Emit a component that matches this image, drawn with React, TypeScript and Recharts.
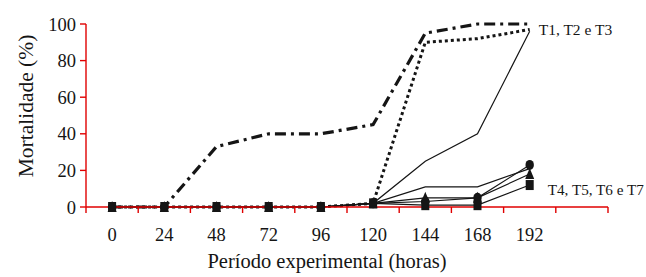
import React from 'react';
import { LineChart, Line, XAxis, YAxis, ReferenceDot } from 'recharts';

const hours = [0, 24, 48, 72, 96, 120, 144, 168, 192];
const t1 = [0, 0, 33, 40, 40, 45, 95, 100, 100];
const t2 = [0, 0, 0, 0, 0, 2, 90, 92, 97];
const t3 = [0, 0, 0, 0, 0, 2, 25, 40, 96];
const t4 = [0, 0, 0, 0, 0, 2, 11, 11, 21];
const t5 = [0, 0, 0, 0, 0, 2, 3, 5, 23];
const t6 = [0, 0, 0, 0, 0, 2, 5, 5, 18];
const t7 = [0, 0, 0, 0, 0, 2, 1, 1, 12];

const xDomain = [-12, 228];
const xLabelTicks = [0, 24, 48, 72, 96, 120, 144, 168, 192];
const xMarkTicks = [-12, 12, 36, 60, 84, 108, 132, 156, 180, 204, 228];
const yTicks = [0, 20, 40, 60, 80, 100];

const groupLabel1 = 'T1, T2 e T3';
const groupLabel2 = 'T4, T5, T6 e T7';
const xTitle = 'Período experimental (horas)';
const yTitle = 'Mortalidade (%)';

const data = hours.map((h, i) => ({
  h,
  t1: t1[i],
  t2: t2[i],
  t3: t3[i],
  t4: t4[i],
  t5: t5[i],
  t6: t6[i],
  t7: t7[i],
}));

const FONT = '"Liberation Serif", "Times New Roman", Times, serif';
const INK = '#151515';
const AX = '#e00000';

const squareDot = (p: any) => (
  <rect key={`s${p.index}`} x={p.cx - 4} y={p.cy - 5} width={8} height={10} fill={INK} />
);
const circleDot = (p: any) => (
  <ellipse key={`c${p.index}`} cx={p.cx} cy={p.cy} rx={4.2} ry={5} fill={INK} />
);
const triDot = (p: any) => (
  <polygon
    key={`t${p.index}`}
    points={`${p.cx},${p.cy - 6} ${p.cx - 4.5},${p.cy + 5} ${p.cx + 4.5},${p.cy + 5}`}
    fill={INK}
  />
);

export default function App() {
  return (
    <div style={{ position: 'absolute', left: 0, top: 0 }}>
      <LineChart
        width={646}
        height={277}
        data={data}
        margin={{ top: 24, right: 38, left: 0, bottom: 0 }}
      >
        <XAxis
          xAxisId="a"
          dataKey="h"
          type="number"
          domain={xDomain}
          ticks={xMarkTicks}
          interval={0}
          height={6}
          tickSize={6}
          tick={{ fill: 'none', fontSize: 1 }}
          stroke={AX}
          axisLine={{ stroke: AX, strokeWidth: 1.4 }}
          tickLine={{ stroke: AX, strokeWidth: 1.4 }}
        />
        <XAxis
          xAxisId="b"
          dataKey="h"
          type="number"
          domain={xDomain}
          ticks={xLabelTicks}
          interval={0}
          height={64}
          axisLine={false}
          tickLine={false}
          tickSize={0}
          tickMargin={15}
          tick={{ fontFamily: FONT, fontSize: 18.5, fill: INK }}
          label={{
            content: () => (
              <text x={327} y={268} textAnchor="middle" fontFamily={FONT} fontSize={20.5} fill={INK}>
                {xTitle}
              </text>
            ),
          }}
        />
        <YAxis
          domain={[0, 100]}
          ticks={yTicks}
          interval={0}
          width={86}
          tickSize={6}
          tickMargin={4}
          stroke={AX}
          axisLine={{ stroke: AX, strokeWidth: 1.4 }}
          tickLine={{ stroke: AX, strokeWidth: 1.4 }}
          tick={{ fontFamily: FONT, fontSize: 18.5, fill: INK }}
          label={{
            content: () => (
              <text
                x={33}
                y={106}
                transform="rotate(-90 33 106)"
                textAnchor="middle"
                fontFamily={FONT}
                fontSize={21.5}
                fill={INK}
              >
                {yTitle}
              </text>
            ),
          }}
        />
        <Line xAxisId="a" dataKey="t7" stroke="none" dot={false} activeDot={false} isAnimationActive={false} />
        <Line xAxisId="b" dataKey="t1" stroke={INK} strokeWidth={3.2} strokeDasharray="11 5 3 5" dot={false} isAnimationActive={false} />
        <Line xAxisId="b" dataKey="t2" stroke={INK} strokeWidth={3} strokeDasharray="3 3" dot={false} isAnimationActive={false} />
        <Line xAxisId="b" dataKey="t3" stroke={INK} strokeWidth={1.2} dot={false} isAnimationActive={false} />
        <Line xAxisId="b" dataKey="t4" stroke={INK} strokeWidth={1.2} dot={false} isAnimationActive={false} />
        <Line xAxisId="b" dataKey="t5" stroke={INK} strokeWidth={1.2} dot={circleDot} isAnimationActive={false} />
        <Line xAxisId="b" dataKey="t6" stroke={INK} strokeWidth={1.2} dot={triDot} isAnimationActive={false} />
        <Line xAxisId="b" dataKey="t7" stroke={INK} strokeWidth={1.2} dot={squareDot} isAnimationActive={false} />
        <ReferenceDot
          xAxisId="b"
          x={hours[hours.length - 1]}
          y={t2[t2.length - 1]}
          r={0}
          fill="none"
          stroke="none"
          label={{
            content: (props: any) => (
              <text x={props.viewBox.x + 9} y={props.viewBox.y + 6} fontFamily={FONT} fontSize={15.5} fill={INK}>
                {groupLabel1}
              </text>
            ),
          }}
        />
        <ReferenceDot
          xAxisId="b"
          x={hours[hours.length - 1]}
          y={t7[t7.length - 1]}
          r={0}
          fill="none"
          stroke="none"
          label={{
            content: (props: any) => (
              <text x={props.viewBox.x + 18} y={props.viewBox.y + 10} fontFamily={FONT} fontSize={15.2} fill={INK}>
                {groupLabel2}
              </text>
            ),
          }}
        />
      </LineChart>
    </div>
  );
}
